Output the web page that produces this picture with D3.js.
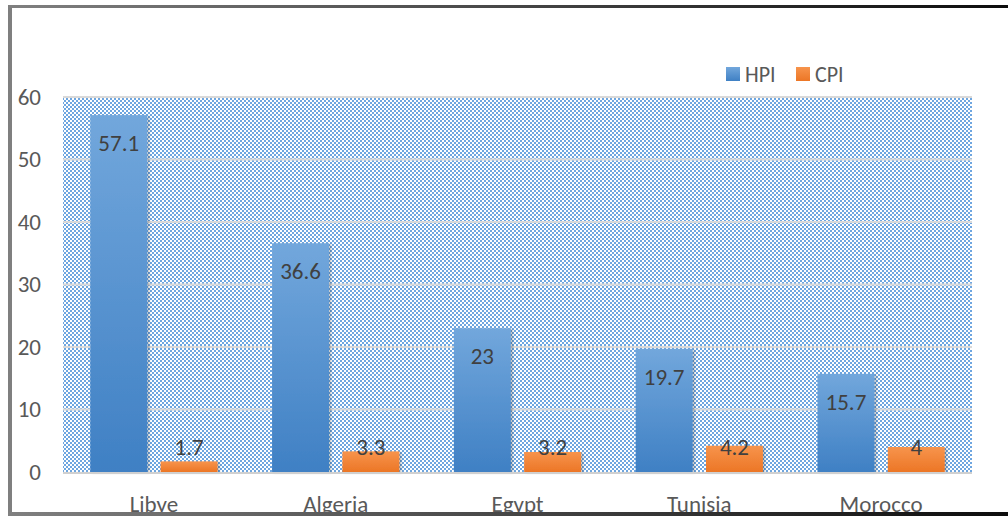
<!DOCTYPE html>
<html>
<head>
<meta charset="utf-8">
<script src="https://cdn.jsdelivr.net/npm/d3@7"></script>
<style>
  body { margin: 0; background: #fff; }
  text { font-family: Calibri, Carlito, Lato, "Open Sans", sans-serif; }
</style>
</head>
<body>
<div id="container"></div>
<script>
// chart data
var countries = ["Libye", "Algeria", "Egypt", "Tunisia", "Morocco"];
var seriesNames = ["HPI", "CPI"];
var hpiValues = [57.1, 36.6, 23, 19.7, 15.7];
var cpiValues = [1.7, 3.3, 3.2, 4.2, 4];
var yTicks = [0, 10, 20, 30, 40, 50, 60];

var width = 1008, height = 518;
var plotLeft = 63, plotRight = 972, plotTop = 97, plotBottom = 472;

var svg = d3.select("#container").append("svg")
  .attr("width", width)
  .attr("height", height);

var defs = svg.append("defs");

// checkered fill of the plot area
var pat = defs.append("pattern")
  .attr("id", "checker")
  .attr("width", 4).attr("height", 4)
  .attr("patternUnits", "userSpaceOnUse");
pat.append("rect").attr("width", 4).attr("height", 4).attr("fill", "#ffffff");
pat.append("rect").attr("width", 2).attr("height", 2).attr("fill", "#6ea6e0");
pat.append("rect").attr("x", 2).attr("y", 2).attr("width", 2).attr("height", 2).attr("fill", "#6ea6e0");

var grads = {
  HPI: ["#72a7dc", "#3f80c4"],
  CPI: ["#f7944c", "#ec7626"]
};
seriesNames.forEach(function(s) {
  var g = defs.append("linearGradient")
    .attr("id", "grad" + s)
    .attr("x1", 0).attr("y1", 0).attr("x2", 0).attr("y2", 1);
  g.append("stop").attr("offset", "0%").attr("stop-color", grads[s][0]);
  g.append("stop").attr("offset", "100%").attr("stop-color", grads[s][1]);
});

var borderGrad = defs.append("linearGradient")
  .attr("id", "borderGrad")
  .attr("x1", 0).attr("y1", 0).attr("x2", 1).attr("y2", 0);
borderGrad.append("stop").attr("offset", "0%").attr("stop-color", "#808080");
borderGrad.append("stop").attr("offset", "100%").attr("stop-color", "#0d0d0d");

var shadow = defs.append("filter").attr("id", "shadow")
  .attr("x", "-10%").attr("y", "-10%").attr("width", "130%").attr("height", "130%");
shadow.append("feDropShadow")
  .attr("dx", 2).attr("dy", 1).attr("stdDeviation", 1.2)
  .attr("flood-color", "#000").attr("flood-opacity", 0.25);

// scales
var x0 = d3.scaleBand()
  .domain(countries)
  .range([plotLeft, plotRight])
  .paddingInner(0.3)
  .paddingOuter(0.15);

var x1 = d3.scaleBand()
  .domain(seriesNames)
  .range([0, x0.bandwidth()])
  .paddingInner(0.19);

var y = d3.scaleLinear()
  .domain([0, 60])
  .range([plotBottom, plotTop]);

// plot area background
svg.append("rect")
  .attr("x", plotLeft).attr("y", plotTop)
  .attr("width", plotRight - plotLeft).attr("height", plotBottom - plotTop)
  .attr("fill", "url(#checker)");

// gridlines
svg.append("g")
  .selectAll("line")
  .data(yTicks.filter(function(d) { return d > 0; }))
  .enter().append("line")
  .attr("x1", plotLeft).attr("x2", plotRight)
  .attr("y1", function(d) { return y(d); })
  .attr("y2", function(d) { return y(d); })
  .attr("stroke", "#d9d9d9")
  .attr("stroke-width", 2);

// y axis labels
var yAxis = svg.append("g")
  .attr("transform", "translate(41,0)")
  .call(d3.axisLeft(y).tickValues(yTicks).tickSize(0).tickPadding(0));
yAxis.select(".domain").remove();
yAxis.selectAll("text")
  .attr("font-size", 23)
  .attr("fill", "#595959");

// bars
var rows = countries.map(function(c, i) {
  return [
    { country: c, series: "HPI", value: hpiValues[i] },
    { country: c, series: "CPI", value: cpiValues[i] }
  ];
});

var group = svg.append("g").selectAll("g")
  .data(rows)
  .enter().append("g")
  .attr("transform", function(d) { return "translate(" + x0(d[0].country) + ",0)"; });

group.selectAll("rect")
  .data(function(d) { return d; })
  .enter().append("rect")
  .attr("x", function(d) { return x1(d.series); })
  .attr("y", function(d) { return y(d.value); })
  .attr("width", x1.bandwidth())
  .attr("height", function(d) { return y(0) - y(d.value); })
  .attr("fill", function(d) { return "url(#grad" + d.series + ")"; })
  .attr("filter", "url(#shadow)");

// value labels, inside end (kept above the base for short bars)
group.selectAll("text")
  .data(function(d) { return d; })
  .enter().append("text")
  .attr("x", function(d) { return x1(d.series) + x1.bandwidth() / 2; })
  .attr("y", function(d) { return Math.min(y(d.value) + 28, y(0) - 25); })
  .attr("dy", "0.35em")
  .attr("text-anchor", "middle")
  .attr("font-size", 23)
  .attr("fill", "#404040")
  .text(function(d) { return d.value; });

// base axis line
svg.append("line")
  .attr("x1", plotLeft).attr("x2", plotRight)
  .attr("y1", plotBottom + 1).attr("y2", plotBottom + 1)
  .attr("stroke", "#d0d0d0")
  .attr("stroke-width", 2);

// x axis labels
var xAxis = svg.append("g")
  .attr("transform", "translate(0," + (plotBottom + 24) + ")")
  .call(d3.axisBottom(x0).tickSize(0).tickPadding(0));
xAxis.select(".domain").remove();
xAxis.selectAll("text")
  .attr("font-size", 23)
  .attr("fill", "#595959");

// legend
var legend = svg.append("g")
  .selectAll("g")
  .data(seriesNames)
  .enter().append("g")
  .attr("transform", function(d, i) { return "translate(" + (726 + i * 70) + ",67)"; });
legend.append("rect")
  .attr("width", 14).attr("height", 14)
  .attr("fill", function(d) { return "url(#grad" + d + ")"; });
legend.append("text")
  .attr("x", 19).attr("y", 7)
  .attr("dy", "0.35em")
  .attr("font-size", 22)
  .attr("fill", "#595959")
  .text(function(d) { return d; });

// chart frame
svg.append("line")
  .attr("x1", 10).attr("x2", 10).attr("y1", 5).attr("y2", 516)
  .attr("stroke", "#7f7f7f").attr("stroke-width", 4);
svg.append("rect")
  .attr("x", 8).attr("y", 5).attr("width", 1000).attr("height", 3)
  .attr("fill", "url(#borderGrad)");
svg.append("rect")
  .attr("x", 8).attr("y", 512).attr("width", 1000).attr("height", 4)
  .attr("fill", "url(#borderGrad)");
</script>
</body>
</html>
